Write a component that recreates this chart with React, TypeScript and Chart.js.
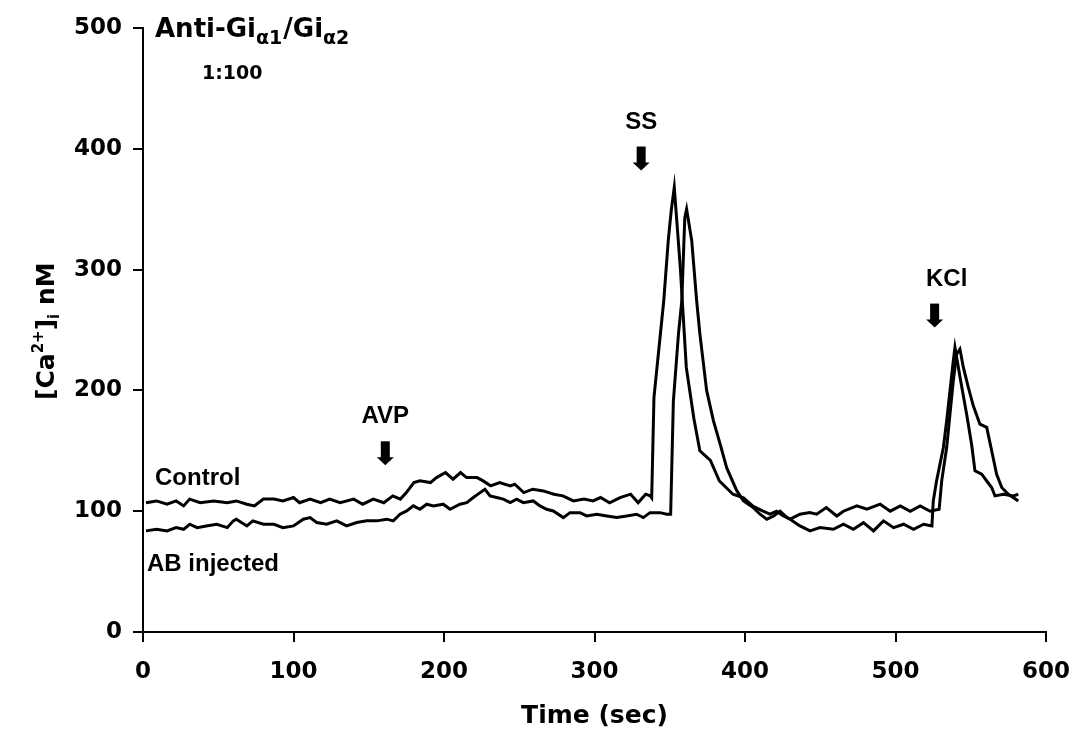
import React, { useEffect, useRef } from "react";
import { Chart, registerables } from "chart.js";

Chart.register(...registerables);

// ---- Data ----
const xTicks = [0, 100, 200, 300, 400, 500, 600];
const yTicks = [0, 100, 200, 300, 400, 500];

const controlTime = [
  2, 9, 16, 22, 27, 31, 38, 47, 56, 62, 69, 74, 80, 87, 93, 100, 104, 111, 118, 124, 131, 140, 146, 153, 160, 166, 171, 175,
  180, 184, 191, 195, 201, 206, 211, 215, 222, 226, 231, 237, 244, 247, 253, 259, 266, 273, 279, 286, 293, 299, 304, 310, 317,
  324, 329, 334, 337, 338, 339.5, 346, 349, 351, 353, 357, 361, 366, 370, 377, 383, 392, 399, 405.5, 412, 416.6, 421, 425.5,
  430, 436.5, 443, 447.6, 454, 461, 465.4, 474.3, 481, 489.8, 496.5, 503.2, 509.8, 516.4, 523, 529, 530.7, 534, 536.2, 538.4,
  540.6, 542.8, 545.1, 548.4, 551.7, 556.1, 560.6, 563.9, 567.2, 570.6, 575, 581.6,
];
const controlValues = [
  107, 108.5, 105.8, 108.5, 104.4, 110, 107, 108.5, 107, 108.5, 105.8, 104.4, 110, 110, 108.5, 111.3, 107, 110, 107, 110, 107,
  110, 105.8, 110, 107, 112.7, 110, 115.4,
  123.7, 125.1, 123.7, 127.8, 132, 126.5, 132, 127.8, 127.8, 125.1, 121, 123.7, 121, 122.3, 115.4, 118.2, 116.8, 114.1, 112.7,
  108.5, 110, 108.5, 111.3, 107, 111.3,
  114.1, 107, 114.1, 112.7, 111, 194, 274, 324, 349, 368, 302, 219, 177, 150, 142, 125, 114, 111, 104, 100, 97.5, 100, 96,
  93.4, 97.5, 98.9, 97.5, 103, 96, 100, 104.4, 101.6, 105.8, 100, 104.4, 100, 104.4, 100, 101.6, 125.1, 152.7, 180.3, 208,
  230, 234.2, 219, 202.4, 187.2, 172, 169.4, 150, 130.6, 119.6, 114, 108.5,
];

const abTime = [
  2, 9, 16, 22, 27, 31, 36, 42, 49, 56, 60, 62, 69, 73, 80, 87, 93, 100, 106.5, 111, 115.4, 122, 128.7, 135.3, 142, 148.6,
  155.3, 162, 166.3, 170.8, 175.2, 179.6, 184, 188.5, 193, 199.5, 204, 210.6, 215.1, 219.5, 224, 227.2, 230.6, 235, 239.4,
  244, 248.3, 252.7, 259.3, 263.8, 268.2, 272.6, 279.3, 283.7, 290.4, 294.8, 301.5, 308.1, 314.8, 321.4, 328, 332.4, 336.9,
  343.5, 348, 350.6, 352.4, 355.8, 358, 360, 361.2, 364.6, 367.9, 370, 374.5, 379, 383.4, 387.8, 394.5, 399, 405.5, 410,
  414.5, 419, 423.3, 428, 430, 436.5, 443.2, 449.8, 458.7, 465.4, 472, 478.7, 485.4, 492, 498.7, 505.4, 512, 518.7, 524.2,
  525.1, 527.3, 531.8, 534, 536.2, 538.4, 539.5, 543, 547.3, 550.6, 552.8, 557.3, 560.6, 563.9, 566.1, 571.7, 578.3, 581.6,
];
const abValues = [
  83.7, 85, 83.7, 86.4, 85, 89.2, 86.4, 87.8, 89.2, 86.4, 92, 93.4, 87.8, 92, 89.2, 89.2, 86.4, 87.8, 93.4, 94.7, 90.6, 89.2,
  92, 87.8, 90.6, 92, 92, 93.4, 92, 97.5, 100.2, 104.4, 101.6, 105.8, 104.4, 105.8, 101.6, 105.8, 107.1, 111.3, 115.4, 118.2,
  112.7, 111.3, 110, 107.1, 110, 107.1, 108.5, 104.4, 101.6, 100.2, 94.7, 98.8, 98.8, 96.1, 97.5, 96.1, 94.7, 96.1, 97.5,
  94.7, 98.8, 98.8, 97.5, 97.5, 191, 247, 274, 343, 350, 324, 274, 247, 200, 175, 156, 136, 117, 108.5, 103, 97.5, 93.4, 96,
  100, 94.7, 93.4, 87.8, 83.7, 86.4, 85, 89.2, 85, 90.5, 83.7, 92, 86.4, 89.2, 85, 89.2, 87.8, 108.5, 125.1, 152.7, 174.8,
  199.7, 224.5, 235.6, 210, 180, 155, 133.4, 130.6, 125, 119.6, 112.7, 114, 112.7, 114,
];

const seriesLabels = ["Control", "AB injected"];
const annotationLabels = ["AVP", "SS", "KCl"];
const annotationTimes = [161, 331, 526];
const annotationTips = [138, 382, 252];

const TICK_FAMILY = "'DejaVu Sans', sans-serif";
const LABEL_FAMILY = "'Liberation Sans', Arial, sans-serif";

const textPlugin = {
  id: "textPlugin",
  afterDraw(chart: any) {
    const ctx = chart.ctx as CanvasRenderingContext2D;
    const xs = chart.scales.x;
    const ys = chart.scales.y;
    ctx.save();
    ctx.fillStyle = "#000";
    ctx.textBaseline = "alphabetic";
    ctx.textAlign = "left";

    // Title with subscripts
    let x = 155;
    const base = 37;
    const big = `bold 26px ${TICK_FAMILY}`;
    const small = `bold 19px ${TICK_FAMILY}`;
    const pieces: [string, string, number][] = [
      ["Anti-Gi", big, 0],
      ["\u03B11", small, 7],
      ["/Gi", big, 0],
      ["\u03B12", small, 7],
    ];
    for (const [t, f, dy] of pieces) {
      ctx.font = f;
      ctx.fillText(t, x, base + dy);
      x += ctx.measureText(t).width + (dy ? 1 : 0);
    }
    ctx.font = `bold 19px ${TICK_FAMILY}`;
    ctx.fillText("1:100", 202, 79);

    // Series labels
    ctx.font = `bold 24px ${LABEL_FAMILY}`;
    ctx.fillText(seriesLabels[0], 155, 485);
    ctx.fillText(seriesLabels[1], 147, 571);

    // Y axis title [Ca2+]i nM
    ctx.save();
    ctx.translate(54, 400);
    ctx.rotate(-Math.PI / 2);
    let p = 0;
    const yBig = `bold 25px ${TICK_FAMILY}`;
    const ySmall = `bold 15px ${TICK_FAMILY}`;
    const yPieces: [string, string, number][] = [
      ["[Ca", yBig, 0],
      ["2+", ySmall, -11],
      ["]", yBig, 0],
      ["i", ySmall, 5],
      [" nM", yBig, 0],
    ];
    for (const [t, f, dy] of yPieces) {
      ctx.font = f;
      ctx.fillText(t, p, dy);
      p += ctx.measureText(t).width;
    }
    ctx.restore();

    // Stimulus arrows
    const labelOffsets = [0, 0, 12];
    for (let i = 0; i < annotationLabels.length; i++) {
      const px = xs.getPixelForValue(annotationTimes[i]);
      const tip = ys.getPixelForValue(annotationTips[i]);
      ctx.fillRect(px - 4.5, tip - 24, 9, 17);
      ctx.beginPath();
      ctx.moveTo(px - 8.5, tip - 8);
      ctx.lineTo(px + 8.5, tip - 8);
      ctx.lineTo(px, tip);
      ctx.closePath();
      ctx.fill();
      ctx.font = `bold 24px ${LABEL_FAMILY}`;
      ctx.textAlign = "center";
      ctx.fillText(annotationLabels[i], px + labelOffsets[i], tip - 42);
      ctx.textAlign = "left";
    }
    ctx.restore();
  },
};

export default function App() {
  const ref = useRef<HTMLCanvasElement | null>(null);
  useEffect(() => {
    document.body.style.margin = "0";
    const canvas = ref.current;
    if (!canvas) return;
    const toPoints = (ts: number[], vs: number[]) => ts.map((t, i) => ({ x: t, y: vs[i] }));
    const tickFont = { family: TICK_FAMILY, weight: "bold" as const, size: 23 };
    const chart = new Chart(canvas, {
      type: "line",
      data: {
        datasets: [
          {
            label: seriesLabels[0],
            data: toPoints(controlTime, controlValues),
            borderColor: "#000",
            borderWidth: 3,
            pointRadius: 0,
            tension: 0,
            fill: false,
          },
          {
            label: seriesLabels[1],
            data: toPoints(abTime, abValues),
            borderColor: "#000",
            borderWidth: 3,
            pointRadius: 0,
            tension: 0,
            fill: false,
          },
        ],
      },
      options: {
        responsive: false,
        animation: false,
        devicePixelRatio: 1,
        layout: { padding: { top: 28, right: 31, left: 0, bottom: 0 } },
        plugins: { legend: { display: false }, tooltip: { enabled: false }, title: { display: false } },
        scales: {
          x: {
            type: "linear",
            min: 0,
            max: 600,
            afterBuildTicks: (s: any) => {
              s.ticks = xTicks.map((v) => ({ value: v }));
            },
            afterFit: (s: any) => {
              s.height = 107;
              s.paddingLeft = 0;
              s.paddingRight = 0;
            },
            ticks: { font: tickFont, color: "#000", padding: 16, maxRotation: 0, autoSkip: false },
            grid: { display: true, drawOnChartArea: false, drawTicks: true, tickLength: 10, color: "#000", lineWidth: 2 },
            border: { display: true, color: "#000", width: 2 },
            title: {
              display: true,
              text: "Time (sec)",
              color: "#000",
              font: { family: TICK_FAMILY, weight: "bold", size: 25 },
              padding: { top: 0, bottom: 8 },
            },
          },
          y: {
            type: "linear",
            min: 0,
            max: 500,
            afterBuildTicks: (s: any) => {
              s.ticks = yTicks.map((v) => ({ value: v }));
            },
            afterFit: (s: any) => {
              s.width = 143;
              s.paddingTop = 0;
              s.paddingBottom = 0;
            },
            ticks: { font: tickFont, color: "#000", padding: 11 },
            grid: { display: true, drawOnChartArea: false, drawTicks: true, tickLength: 10, color: "#000", lineWidth: 2 },
            border: { display: true, color: "#000", width: 2 },
          },
        },
      },
      plugins: [textPlugin],
    } as any);
    return () => chart.destroy();
  }, []);
  return <canvas ref={ref} width={1077} height={739} style={{ display: "block" }} />;
}
